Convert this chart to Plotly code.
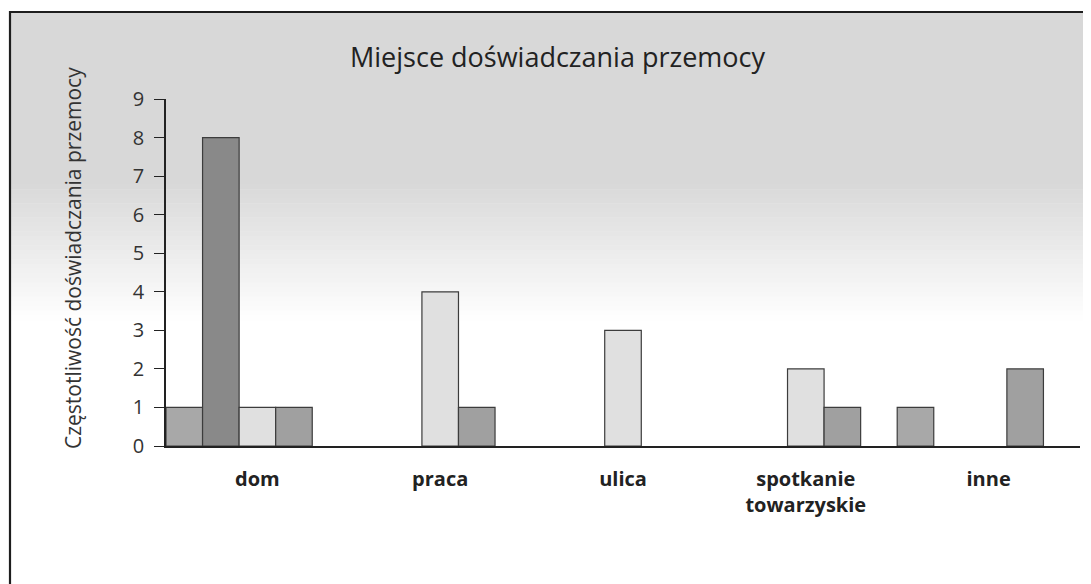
import plotly.graph_objects as go

# ---- data ----
categories = ["dom", "praca", "ulica", "spotkanie towarzyskie", "inne"]
tick_labels = ["dom", "praca", "ulica", "spotkanie<br>towarzyskie", "inne"]
series_1 = [1, 0, 0, 0, 1]
series_2 = [8, 0, 0, 0, 0]
series_3 = [1, 4, 3, 2, 0]
series_4 = [1, 1, 0, 1, 2]
y_ticks = list(range(0, 10))

title_text = "Miejsce doświadczania przemocy"
y_title = "Częstotliwość doświadczania przemocy"

# ---- layout geometry (page has an 8px body offset) ----
OFF = 8
W, H = 1091, 584
ML, MT = 166 - OFF, 99 - OFF
MR = W - (1080 - OFF)
MB = H - (446 - OFF)
PW, PH = W - ML - MR, H - MT - MB


def px2x(px):
    return (px - OFF - ML) / PW


def py2y(py):
    return 1 - (py - OFF - MT) / PH


series = [series_1, series_2, series_3, series_4]
colors = ["#a8a8a8", "#898989", "#e0e0e0", "#a0a0a0"]
bar_w = 0.2

fig = go.Figure()
for k, (vals, col) in enumerate(zip(series, colors)):
    fig.add_trace(go.Bar(
        x=categories, y=[v if v else None for v in vals],
        width=bar_w, offset=-0.5 + k * bar_w,
        marker=dict(color=col, line=dict(color="#3c3c3c", width=1.2)),
        showlegend=False, hoverinfo="x+y",
    ))

shapes = []
# gradient background (grey top fading to white)
top, fade_start, fade_end = 12, 180, 320
g0 = 216
shapes.append(dict(type="rect", xref="paper", yref="paper", layer="below",
                   x0=px2x(10), x1=px2x(W + 20), y0=py2y(top), y1=py2y(fade_start),
                   fillcolor=f"rgb({g0},{g0},{g0})", line=dict(width=0)))
n = 30
for i in range(n):
    a = fade_start + (fade_end - fade_start) * i / n
    b = fade_start + (fade_end - fade_start) * (i + 1) / n
    g = int(g0 + (255 - g0) * (i + 0.5) / n)
    shapes.append(dict(type="rect", xref="paper", yref="paper", layer="below",
                       x0=px2x(10), x1=px2x(W + 20), y0=py2y(a), y1=py2y(b + 0.5),
                       fillcolor=f"rgb({g},{g},{g})", line=dict(width=0)))
# chart border (left and top edges visible)
shapes.append(dict(type="path", xref="paper", yref="paper", layer="above",
                   path=f"M {px2x(10)} {py2y(H + 20)} L {px2x(10)} {py2y(12)} L {px2x(W + 20)} {py2y(12)}",
                   line=dict(color="#1e1e1e", width=2.2)))

fig.update_layout(
    width=W, height=H,
    margin=dict(l=ML, r=MR, t=MT, b=MB),
    paper_bgcolor="white", plot_bgcolor="rgba(0,0,0,0)",
    barmode="overlay",
    shapes=shapes,
    font=dict(family="Open Sans, sans-serif"),
)

fig.update_xaxes(
    type="category", range=[-0.5, 4.5],
    tickvals=categories, ticktext=tick_labels,
    showline=True, linecolor="#222", linewidth=1.5,
    ticks="", showgrid=False, zeroline=False,
    tickfont=dict(family="Open Sans, sans-serif", size=20, color="#222", weight="bold"),
    ticklabelstandoff=14,
)
fig.update_yaxes(
    range=[0, 9], tickvals=y_ticks,
    showline=True, linecolor="#222", linewidth=1.5,
    ticks="outside", ticklen=10, tickcolor="#222", tickwidth=1.2,
    showgrid=False, zeroline=False,
    tickfont=dict(family="Open Sans, sans-serif", size=20, color="#333"),
    ticklabelstandoff=6,
)

fig.add_annotation(
    text=title_text, xref="paper", yref="paper",
    x=px2x(557), y=py2y(56), xanchor="center", yanchor="middle",
    showarrow=False,
    font=dict(family="Open Sans, sans-serif", size=27, color="#222"),
)
fig.add_annotation(
    text=y_title, textangle=-90, xref="paper", yref="paper",
    x=px2x(73), y=py2y(258), xanchor="center", yanchor="middle",
    showarrow=False,
    font=dict(family="Open Sans, sans-serif", size=21, color="#333"),
)

fig.write_html("out.html")
